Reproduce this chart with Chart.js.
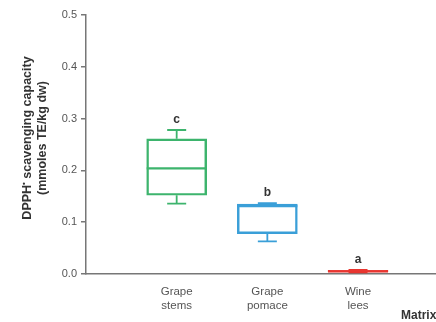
<!DOCTYPE html>
<html>
<head>
<meta charset="utf-8">
<script src="https://cdn.jsdelivr.net/npm/chart.js@4"></script>
<style>
    html, body { margin: 0; padding: 0; background: #fff; overflow: hidden; }
    #wrap { width: 436px; height: 322px; position: relative; }
</style>
</head>
<body>
<div id="wrap"><canvas id="boxChart"></canvas></div>
<script>
// Box plot values
const categories = [['Grape', 'stems'], ['Grape', 'pomace'], ['Wine', 'lees']];
const mins = [0.136, 0.063, 0.003];
const q1s = [0.152, 0.078, 0.004];
const medians = [0.204, 0.131, 0.005];
const q3s = [0.261, 0.135, 0.007];
const maxs = [0.278, 0.137, 0.008];
const letters = ['c', 'b', 'a'];
const colors = ['#3db46d', '#3a9fd8', '#e8352f'];
const yTicks = [0, 0.1, 0.2, 0.3, 0.4, 0.5];

const FONT = 'Arial, "Liberation Sans", sans-serif';

// Whiskers, medians, letters and axis titles
const boxExtras = {
    id: 'boxExtras',
    afterDatasetsDraw(chart) {
        const ctx = chart.ctx;
        const xs = chart.scales.x;
        const ys = chart.scales.y;
        ctx.save();
        for (let i = 0; i < categories.length; i++) {
            const x = xs.getPixelForValue(i + 1);
            const half = 30;
            const cap = 9.5;
            ctx.strokeStyle = colors[i];
            ctx.lineWidth = 1.8;
            ctx.beginPath();
            // upper whisker
            ctx.moveTo(x, ys.getPixelForValue(q3s[i]));
            ctx.lineTo(x, ys.getPixelForValue(maxs[i]));
            ctx.moveTo(x - cap, ys.getPixelForValue(maxs[i]));
            ctx.lineTo(x + cap, ys.getPixelForValue(maxs[i]));
            // lower whisker
            ctx.moveTo(x, ys.getPixelForValue(q1s[i]));
            ctx.lineTo(x, ys.getPixelForValue(mins[i]));
            ctx.moveTo(x - cap, ys.getPixelForValue(mins[i]));
            ctx.lineTo(x + cap, ys.getPixelForValue(mins[i]));
            ctx.stroke();
            // median
            ctx.lineWidth = 2.2;
            ctx.beginPath();
            ctx.moveTo(x - half, ys.getPixelForValue(medians[i]));
            ctx.lineTo(x + half, ys.getPixelForValue(medians[i]));
            ctx.stroke();
            // letter
            ctx.fillStyle = '#333';
            ctx.font = 'bold 12px ' + FONT;
            ctx.textAlign = 'center';
            ctx.textBaseline = 'bottom';
            ctx.fillText(letters[i], x, ys.getPixelForValue(maxs[i]) - 4);
        }

        // y title, two rotated lines
        const tf = 'bold 12.5px ' + FONT;
        ctx.fillStyle = '#333';
        ctx.font = tf;
        ctx.translate(0, 138);
        ctx.rotate(-Math.PI / 2);
        ctx.textAlign = 'left';
        ctx.textBaseline = 'middle';
        const a = 'DPPH', b = ' scavenging capacity';
        const wa = ctx.measureText(a).width;
        ctx.font = 'bold 8px ' + FONT;
        const wd = ctx.measureText('\u2022').width;
        ctx.font = tf;
        const wb = ctx.measureText(b).width;
        let sx = -(wa + wd + wb) / 2;
        ctx.fillText(a, sx, 28);
        ctx.font = 'bold 8px ' + FONT;
        ctx.fillText('\u2022', sx + wa, 24);
        ctx.font = tf;
        ctx.fillText(b, sx + wa + wd, 28);
        ctx.textAlign = 'center';
        ctx.fillText('(mmoles TE/kg dw)', 0, 43);
        ctx.restore();

        // x title, cut at the right edge
        ctx.save();
        ctx.fillStyle = '#333';
        ctx.font = 'bold 12px ' + FONT;
        ctx.textAlign = 'left';
        ctx.textBaseline = 'middle';
        ctx.fillText('Matrix', 401, 316);
        ctx.restore();
    }
};

const ctx = document.getElementById('boxChart').getContext('2d');
new Chart(ctx, {
    type: 'bar',
    data: {
        datasets: [{
            data: categories.map((c, i) => ({ x: i + 1, y: [q1s[i], q3s[i]] })),
            backgroundColor: ['rgba(0,0,0,0)', 'rgba(0,0,0,0)', colors[2]],
            borderColor: colors,
            borderWidth: 1.8,
            borderSkipped: false,
            barThickness: 60
        }]
    },
    options: {
        responsive: true,
        maintainAspectRatio: false,
        animation: false,
        layout: { padding: { top: 15, right: 0, left: 0, bottom: 0 } },
        plugins: {
            legend: { display: false },
            tooltip: { enabled: false }
        },
        scales: {
            x: {
                type: 'linear',
                min: 0,
                max: 3.86,
                offset: false,
                afterFit(scale) { scale.height = 48; },
                afterBuildTicks(scale) {
                    scale.ticks = categories.map((c, i) => ({ value: i + 1 }));
                },
                ticks: {
                    autoSkip: false,
                    maxRotation: 0,
                    padding: 11,
                    color: '#555',
                    font: { family: FONT, size: 11.5, lineHeight: 1.2 },
                    callback: (v) => categories[v - 1] || ''
                },
                grid: { drawOnChartArea: false, drawTicks: false, offset: false },
                border: { color: '#777', width: 1.5 }
            },
            y: {
                min: 0,
                max: 0.5,
                afterFit(scale) { scale.width = 86; },
                afterBuildTicks(scale) {
                    scale.ticks = yTicks.map(v => ({ value: v }));
                },
                ticks: {
                    padding: 4,
                    color: '#555',
                    font: { family: FONT, size: 11 },
                    callback: (v) => v.toFixed(1)
                },
                grid: { drawOnChartArea: false, drawTicks: true, tickLength: 5, color: '#777', lineWidth: 1.5 },
                border: { color: '#777', width: 1.5 }
            }
        }
    },
    plugins: [boxExtras]
});
</script>
</body>
</html>
